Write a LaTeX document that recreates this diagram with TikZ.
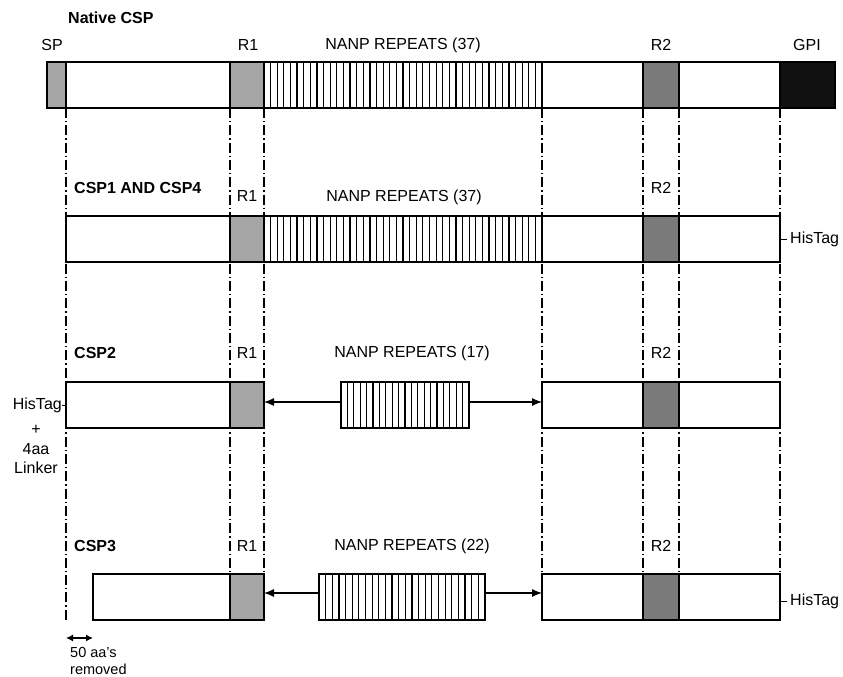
\documentclass[tikz,border=0pt]{standalone}
\usepackage{fontspec}
\setmainfont{Liberation Sans}
\usetikzlibrary{arrows.meta}
\definecolor{gA}{HTML}{A6A6A6}
\definecolor{gB}{HTML}{7A7A7A}
\definecolor{gK}{HTML}{111111}
\begin{document}
\begin{tikzpicture}[x=1pt,y=-1pt,
  seg/.style={draw, line width=1.3pt, fill=white, minimum height=46pt, inner sep=0pt, outer sep=0pt, anchor=north west},
  guide/.style={line width=1.1pt, dash pattern=on 10pt off 3pt on 1.3pt off 3pt},
  lbl/.style={font=\fontsize{16}{19}\selectfont, inner sep=0pt},
  ttl/.style={font=\fontsize{16}{19}\selectfont\bfseries, inner sep=0pt, anchor=west},
  small/.style={font=\fontsize{14.5}{17}\selectfont, inner sep=0pt, anchor=west},
  arr/.style={-{Latex[length=10pt,width=8pt]}, line width=1.2pt},
  stripe/.style={line width=1.2pt},
  tick/.style={line width=1pt}]
\useasboundingbox (0,0) rectangle (843,677);

% guide lines
\foreach \gx in {230,264,542,643,679,780}
  \draw[guide] (\gx,108) -- (\gx,574);
\draw[guide] (66,108) -- (66,622);

% ---------- Native CSP ----------
\node[ttl] (tnat) at (68,18) {Native CSP};
\node[lbl] (lsp) at (52,45) {SP};
\node[lbl] (lr1a) at (248,45) {R1};
\node[lbl] (lrep0) at (403,45) {NANP REPEATS (37)};
\node[lbl] (lr2a) at (661,45) {R2};
\node[lbl] (lgpi) at (807,45) {GPI};

\node[seg, fill=gA, minimum width=19pt] (sp) at (47,62) {};
\node[seg, minimum width=164pt] (n1) at (66,62) {};
\node[seg, fill=gA, minimum width=34pt] (r1a) at (230,62) {};
\node[seg, minimum width=278pt] (rep0) at (264,62) {};
\foreach \i in {1,...,41} \draw[stripe] ({264+\i*278/42},62) -- ++(0,46);
\node[seg, minimum width=101pt] (n2) at (542,62) {};
\node[seg, fill=gB, minimum width=36pt] (r2a) at (643,62) {};
\node[seg, minimum width=101pt] (n3) at (679,62) {};
\node[seg, fill=gK, minimum width=55pt] (gpi) at (780,62) {};

% ---------- CSP1 and CSP4 ----------
\node[ttl] (t1) at (74,188) {CSP1 AND CSP4};
\node[lbl] (l1r1) at (247,196) {R1};
\node[lbl] (l1rep) at (404,197) {NANP REPEATS (37)};
\node[lbl] (l1r2) at (661,188) {R2};

\node[seg, minimum width=164pt] (c1a) at (66,216) {};
\node[seg, fill=gA, minimum width=34pt] (c1r1) at (230,216) {};
\node[seg, minimum width=278pt] (c1rep) at (264,216) {};
\foreach \i in {1,...,41} \draw[stripe] ({264+\i*278/42},216) -- ++(0,46);
\node[seg, minimum width=101pt] (c1b) at (542,216) {};
\node[seg, fill=gB, minimum width=36pt] (c1r2) at (643,216) {};
\node[seg, minimum width=101pt] (c1c) at (679,216) {};
\node[lbl, anchor=west] (h1) at (790,239) {HisTag};
\draw[tick] (c1c.east) -- ++(7,0);

% ---------- CSP2 ----------
\node[ttl] (t2) at (74,353) {CSP2};
\node[lbl] (l2r1) at (247,353) {R1};
\node[lbl] (l2rep) at (412,353) {NANP REPEATS (17)};
\node[lbl] (l2r2) at (661,353) {R2};

\node[seg, minimum width=164pt] (c2a) at (66,382) {};
\node[seg, fill=gA, minimum width=34pt] (c2r1) at (230,382) {};
\node[seg, minimum width=128pt] (c2rep) at (341,382) {};
\foreach \i in {1,...,19} \draw[stripe] ({341+\i*128/20},382) -- ++(0,46);
\node[seg, minimum width=101pt] (c2b) at (542,382) {};
\node[seg, fill=gB, minimum width=36pt] (c2r2) at (643,382) {};
\node[seg, minimum width=101pt] (c2c) at (679,382) {};
\draw[arr] ([yshift=3pt]c2rep.west) -- ([yshift=3pt]c2r1.east);
\draw[arr] ([yshift=3pt]c2rep.east) -- ([yshift=3pt]c2b.west);
\node[lbl, anchor=east] (h2) at (62,405) {HisTag};
\draw[tick] (h2.east) -- (c2a.west);
\node[lbl] (h2p) at (36,430) {+};
\node[lbl] (h2a) at (36,449) {4aa};
\node[lbl] (h2l) at (36,468) {Linker};

% ---------- CSP3 ----------
\node[ttl] (t3) at (74,546) {CSP3};
\node[lbl] (l3r1) at (247,546) {R1};
\node[lbl] (l3rep) at (412,546) {NANP REPEATS (22)};
\node[lbl] (l3r2) at (661,546) {R2};

\node[seg, minimum width=137pt] (c3a) at (93,574) {};
\node[seg, fill=gA, minimum width=34pt] (c3r1) at (230,574) {};
\node[seg, minimum width=166pt] (c3rep) at (319,574) {};
\foreach \i in {1,...,24} \draw[stripe] ({319+\i*166/25},574) -- ++(0,46);
\node[seg, minimum width=101pt] (c3b) at (542,574) {};
\node[seg, fill=gB, minimum width=36pt] (c3r2) at (643,574) {};
\node[seg, minimum width=101pt] (c3c) at (679,574) {};
\draw[arr] ([yshift=4pt]c3rep.west) -- ([yshift=4pt]c3r1.east);
\draw[arr] ([yshift=4pt]c3rep.east) -- ([yshift=4pt]c3b.west);
\node[lbl, anchor=west] (h3) at (790,601) {HisTag};
\draw[tick] (c3c.east |- h3.west) -- ++(7,0);

% ---------- 50 aa's removed ----------
\coordinate (rmA) at (66,638);
\coordinate (rmB) at (93,638);
\draw[{Latex[length=7pt,width=7pt]}-{Latex[length=7pt,width=7pt]}, line width=1.2pt] (rmA) -- (rmB);
\node[small] (rm1) at (70,653) {50 aa’s};
\node[small] (rm2) at (70,669) {removed};
\end{tikzpicture}
\end{document}
